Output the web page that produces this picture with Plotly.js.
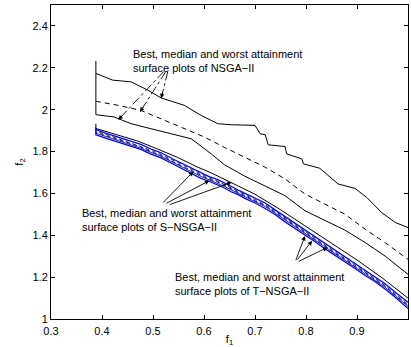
<!DOCTYPE html>
<html>
<head>
<meta charset="utf-8">
<script src="https://cdn.plot.ly/plotly-3.0.1.min.js"></script>
<style>html,body{margin:0;padding:0;background:#fff;}#chart{width:411px;height:347px;}</style>
</head>
<body>
<div id="chart"></div>
<script>
// NSGA-II attainment surfaces
const nsgaWorstX = [0.388, 0.388, 0.421, 0.457, 0.490, 0.516, 0.561, 0.594, 0.627, 0.653, 0.700, 0.710, 0.720, 0.726, 0.759, 0.762, 0.792, 0.795, 0.827, 0.863, 0.896, 0.919, 0.948, 0.975, 1.0];
const nsgaWorstY = [2.232, 2.173, 2.141, 2.133, 2.093, 2.056, 2.021, 1.973, 1.933, 1.928, 1.925, 1.885, 1.880, 1.832, 1.824, 1.789, 1.765, 1.741, 1.720, 1.645, 1.624, 1.581, 1.509, 1.461, 1.437];
const nsgaMedX = [0.388, 0.431, 0.476, 0.516, 0.561, 0.601, 0.640, 0.680, 0.720, 0.759, 0.798, 0.837, 0.876, 0.916, 0.955, 1.0];
const nsgaMedY = [2.040, 2.021, 1.997, 1.957, 1.909, 1.869, 1.820, 1.773, 1.725, 1.669, 1.597, 1.549, 1.501, 1.429, 1.365, 1.285];
const nsgaBestX = [0.388, 0.388, 0.424, 0.457, 0.496, 0.535, 0.575, 0.614, 0.640, 0.680, 0.720, 0.759, 0.798, 0.837, 0.876, 0.916, 0.955, 1.0];
const nsgaBestY = [2.173, 1.976, 1.965, 1.933, 1.909, 1.885, 1.861, 1.789, 1.737, 1.682, 1.634, 1.589, 1.517, 1.473, 1.425, 1.365, 1.301, 1.213];

// S-NSGA-II attainment surfaces
const sWorstX = [0.388, 0.388, 0.398, 0.431, 0.470, 0.509, 0.548, 0.588, 0.614, 0.653, 0.70, 0.75, 0.80, 0.85, 0.90, 0.95, 1.0];
const sWorstY = [1.933, 1.910, 1.903, 1.877, 1.850, 1.812, 1.772, 1.725, 1.698, 1.652, 1.596, 1.522, 1.440, 1.362, 1.282, 1.195, 1.100];
const frontX = [0.388, 0.388, 0.41, 0.431, 0.455, 0.476, 0.496, 0.516, 0.54, 0.561, 0.578, 0.594, 0.61, 0.627, 0.64, 0.653, 0.667, 0.68, 0.70, 0.72, 0.74, 0.759, 0.778, 0.798, 0.818, 0.837, 0.857, 0.876, 0.896, 0.916, 0.935, 0.955, 0.975, 1.0];
const sMedY = [1.915, 1.898, 1.880, 1.862, 1.843, 1.826, 1.806, 1.786, 1.757, 1.730, 1.710, 1.690, 1.674, 1.658, 1.642, 1.626, 1.610, 1.594, 1.570, 1.546, 1.514, 1.482, 1.450, 1.418, 1.385, 1.354, 1.321, 1.290, 1.257, 1.226, 1.195, 1.161, 1.120, 1.071];
const sBestY = [1.902, 1.887, 1.870, 1.853, 1.834, 1.816, 1.796, 1.777, 1.747, 1.721, 1.701, 1.681, 1.665, 1.649, 1.633, 1.617, 1.601, 1.585, 1.561, 1.537, 1.505, 1.473, 1.441, 1.409, 1.376, 1.345, 1.312, 1.281, 1.248, 1.217, 1.186, 1.152, 1.111, 1.060];

// T-NSGA-II attainment surfaces
const tWorstY = [1.912, 1.905, 1.886, 1.870, 1.849, 1.834, 1.812, 1.794, 1.763, 1.738, 1.716, 1.698, 1.680, 1.666, 1.648, 1.634, 1.616, 1.601, 1.577, 1.554, 1.520, 1.489, 1.457, 1.426, 1.391, 1.361, 1.327, 1.297, 1.263, 1.233, 1.201, 1.168, 1.128, 1.080];
const tMedY = [1.905, 1.893, 1.874, 1.858, 1.836, 1.822, 1.799, 1.782, 1.750, 1.726, 1.704, 1.686, 1.668, 1.654, 1.636, 1.622, 1.604, 1.590, 1.564, 1.542, 1.508, 1.478, 1.444, 1.414, 1.379, 1.350, 1.315, 1.286, 1.251, 1.222, 1.189, 1.157, 1.114, 1.066];
const tBestY = [1.895, 1.880, 1.862, 1.846, 1.825, 1.810, 1.788, 1.770, 1.739, 1.713, 1.694, 1.672, 1.658, 1.640, 1.626, 1.608, 1.594, 1.576, 1.554, 1.528, 1.498, 1.464, 1.434, 1.400, 1.369, 1.336, 1.305, 1.272, 1.241, 1.208, 1.179, 1.143, 1.104, 1.050];

const labelLine1 = "Best, median and worst attainment";
const labelNSGA = "surface plots of NSGA\u2212II";
const labelS = "surface plots of S\u2212NSGA\u2212II";
const labelT = "surface plots of T\u2212NSGA\u2212II";

const black = '#000000', blue = '#0000ff';
function tr(x, y, color, width, dash) {
  return {x: x, y: y, type: 'scatter', mode: 'lines', hoverinfo: 'skip',
          line: {color: color, width: width, dash: dash || 'solid'}};
}
const traces = [
  tr(nsgaWorstX, nsgaWorstY, black, 1),
  tr(nsgaMedX, nsgaMedY, black, 1, '5px,4px'),
  tr(nsgaBestX, nsgaBestY, black, 1),
  tr(sWorstX, sWorstY, black, 1),
  tr(frontX, sMedY, black, 0.8, '4px,3px'),
  tr(frontX, sBestY, black, 0.8),
  tr(frontX, tWorstY, blue, 1.3),
  tr(frontX, tMedY, blue, 1, '4px,3px'),
  tr(frontX, tBestY, blue, 1.3)
];

const font = {family: 'Liberation Sans, Arial, Helvetica, sans-serif', size: 11, color: '#000'};

// dash-dot leader lines for NSGA-II label (origin -> tip, arrowhead offset)
const nsgaLeaders = [
  [0.529, 2.182, 0.516, 2.054, 1.8, -7.8],
  [0.525, 2.182, 0.4745, 1.989, 4.3, -6.7],
  [0.521, 2.182, 0.432, 1.952, 5.5, -5.8]
];
const sArrows = [
  [0.517, 1.549, 0.579, 1.704],
  [0.5235, 1.549, 0.6104, 1.661],
  [0.530, 1.544, 0.6543, 1.653]
];
const tArrows = [
  [0.779, 1.274, 0.798, 1.397],
  [0.781, 1.277, 0.812, 1.374],
  [0.783, 1.272, 0.842, 1.342]
];

const shapes = nsgaLeaders.map(a => ({type: 'line', xref: 'x', yref: 'y', x0: a[0], y0: a[1], x1: a[2], y1: a[3],
  line: {color: black, width: 0.9, dash: 'dashdot'}}));

function txt(x, y, t) {
  return {x: x, y: y, xref: 'x', yref: 'y', text: t, showarrow: false, xanchor: 'left', yanchor: 'middle', align: 'left', font: font, borderpad: 0};
}
const annotations = [
  txt(0.458, 2.264, labelLine1), txt(0.458, 2.197, labelNSGA),
  txt(0.359, 1.5055, labelLine1), txt(0.359, 1.438, labelS),
  txt(0.542, 1.203, labelLine1), txt(0.542, 1.136, labelT)
];
nsgaLeaders.forEach(a => annotations.push({x: a[2], y: a[3], xref: 'x', yref: 'y', ax: a[4], ay: a[5], text: '',
  showarrow: true, arrowhead: 2, arrowsize: 1, arrowwidth: 0.9, arrowcolor: black}));
sArrows.concat(tArrows).forEach(a => annotations.push({x: a[2], y: a[3], xref: 'x', yref: 'y', ax: a[0], ay: a[1],
  axref: 'x', ayref: 'y', text: '', showarrow: true, arrowhead: 2, arrowsize: 1, arrowwidth: 0.9, arrowcolor: black}));

const axisCommon = {
  showgrid: false, zeroline: false, showline: true, linecolor: black, linewidth: 1, mirror: 'ticks',
  ticks: 'inside', ticklen: 4, tickcolor: black, tickfont: font
};
const layout = {
  width: 411, height: 347,
  margin: {l: 51, r: 3, t: 5, b: 28},
  paper_bgcolor: '#fff', plot_bgcolor: '#fff',
  showlegend: false,
  font: font,
  xaxis: Object.assign({}, axisCommon, {range: [0.3, 1], dtick: 0.1, tick0: 0.3, ticklabelstandoff: 2,
    title: {text: 'f<sub>1</sub>', font: font, standoff: 1}}),
  yaxis: Object.assign({}, axisCommon, {range: [1, 2.5], dtick: 0.2, tick0: 1,
    title: {text: 'f<sub>2</sub>', font: font, standoff: 6}}),
  shapes: shapes,
  annotations: annotations
};
Plotly.newPlot('chart', traces, layout, {staticPlot: true, displayModeBar: false});
</script>
</body>
</html>
